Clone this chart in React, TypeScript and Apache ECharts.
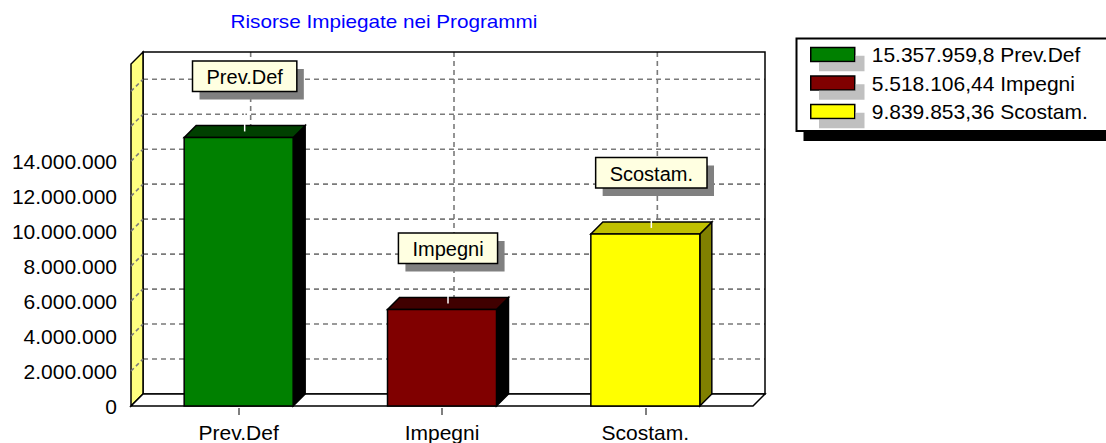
import React, { useEffect, useRef } from "react";
import * as echarts from "echarts";

// ---- data ----
const title = "Risorse Impiegate nei Programmi";
const categories = ["Prev.Def", "Impegni", "Scostam."];
const values = [15357959.8, 5518106.44, 9839853.36];
const colors = ["#008000", "#800000", "#ffff00"];
const topColors = ["#004000", "#400000", "#c0c000"];
const sideColors = ["#000000", "#000000", "#808000"];
const yGridValues = [2e6, 4e6, 6e6, 8e6, 10e6, 12e6, 14e6, 16e6, 18e6];
const yMaxLabel = 14e6;

// ---- layout constants ----
const FONT = '"Liberation Sans", Arial, Helvetica, sans-serif';
const DX = 12;
const DY = -12;
const YMAX = 19559000;
const XMIN = -0.5 - 6 / 203.33;
const XMAX = 2.5 + 6 / 203.33;
const BW = 0.536;
const GRID_DASH = [5, 4];
const GRID_COLOR = "#7a7a7a";

function fmtInt(n: number): string {
  return String(Math.trunc(n)).replace(/\B(?=(\d{3})+(?!\d))/g, ".");
}
function fmtVal(v: number): string {
  const s = String(v);
  const parts = s.split(".");
  return fmtInt(Number(parts[0])) + (parts[1] ? "," + parts[1] : "");
}

let measureCtx: CanvasRenderingContext2D | null = null;
function measure(text: string, font: string): number {
  if (!measureCtx) measureCtx = document.createElement("canvas").getContext("2d");
  if (!measureCtx) return text.length * 10;
  measureCtx.font = font;
  return measureCtx.measureText(text).width;
}

export default function App() {
  const ref = useRef<HTMLDivElement>(null);

  useEffect(() => {
    if (!ref.current) return;
    const chart = echarts.init(ref.current, undefined, { renderer: "svg" });

    const frameSeries: any = {
      type: "custom",
      name: "__frame",
      coordinateSystem: "cartesian2d",
      xAxisIndex: 0,
      yAxisIndex: 0,
      z: 1,
      silent: true,
      data: [[0, 0]],
      renderItem: (params: any, api: any) => {
        const fl = api.coord([XMIN, 0]);
        const fr = api.coord([XMAX, 0]);
        const tl = api.coord([XMIN, YMAX]);
        const children: any[] = [];
        const w = fr[0] - fl[0];
        const h = fl[1] - tl[1];
        children.push({
          type: "rect",
          shape: { x: fl[0] + DX, y: tl[1] + DY, width: w, height: h },
          style: { fill: "#ffffff" },
        });
        yGridValues.forEach((v) => {
          const p = api.coord([XMIN, v]);
          children.push({
            type: "line",
            shape: { x1: p[0] + DX, y1: p[1] + DY, x2: fr[0] + DX, y2: p[1] + DY },
            style: { stroke: GRID_COLOR, lineWidth: 1.6, lineDash: GRID_DASH },
          });
        });
        categories.forEach((_, i) => {
          const p = api.coord([i, 0]);
          children.push({
            type: "line",
            shape: { x1: p[0] + DX, y1: tl[1] + DY, x2: p[0] + DX, y2: fl[1] + DY },
            style: { stroke: GRID_COLOR, lineWidth: 1.6, lineDash: GRID_DASH },
          });
        });
        children.push({
          type: "rect",
          shape: { x: fl[0] + DX, y: tl[1] + DY, width: w, height: h },
          style: { fill: "none", stroke: "#000", lineWidth: 1.5 },
        });
        children.push({
          type: "polygon",
          shape: {
            points: [
              [fl[0], fl[1]],
              [tl[0], tl[1]],
              [tl[0] + DX, tl[1] + DY],
              [fl[0] + DX, fl[1] + DY],
            ],
          },
          style: { fill: "#ffff80", stroke: "#000", lineWidth: 1.5 },
        });
        yGridValues.forEach((v) => {
          const p = api.coord([XMIN, v]);
          children.push({
            type: "line",
            shape: { x1: p[0], y1: p[1], x2: p[0] + DX, y2: p[1] + DY },
            style: { stroke: GRID_COLOR, lineWidth: 1.6, lineDash: [4, 3] },
          });
        });
        children.push({
          type: "polygon",
          shape: {
            points: [
              [fl[0], fl[1]],
              [fr[0], fr[1]],
              [fr[0] + DX, fr[1] + DY],
              [fl[0] + DX, fl[1] + DY],
            ],
          },
          style: { fill: "#ffffff", stroke: "#000", lineWidth: 1.5 },
        });
        return { type: "group", children };
      },
    };

    const markFont = "20px " + FONT;
    const barSeries: any[] = categories.map((name, idx) => ({
      type: "custom",
      name,
      coordinateSystem: "cartesian2d",
      xAxisIndex: 0,
      yAxisIndex: 0,
      z: 2,
      silent: true,
      itemStyle: { color: colors[idx] },
      data: [[idx, values[idx]]],
      renderItem: (params: any, api: any) => {
        const x = api.value(0);
        const v = api.value(1);
        const a = api.coord([x - BW / 2, v]);
        const b = api.coord([x + BW / 2, 0]);
        const x1 = a[0], yT = a[1], x2 = b[0], yB = b[1];
        const stroke = { stroke: "#000", lineWidth: 1.5 };
        const cxm = (x1 + x2) / 2 + DX / 2;
        const topMid = yT + DY / 2;
        const tw = measure(name, markFont);
        const bw = tw + 28;
        const bh = 30.5;
        const boxBottom = topMid - 40;
        const boxTop = boxBottom - bh;
        const boxLeft = cxm - bw / 2;
        return {
          type: "group",
          children: [
            {
              type: "polygon",
              shape: { points: [[x2, yT], [x2 + DX, yT + DY], [x2 + DX, yB + DY], [x2, yB]] },
              style: { fill: sideColors[idx], ...stroke },
            },
            {
              type: "polygon",
              shape: { points: [[x1, yT], [x1 + DX, yT + DY], [x2 + DX, yT + DY], [x2, yT]] },
              style: { fill: topColors[idx], ...stroke },
            },
            {
              type: "rect",
              shape: { x: x1, y: yT, width: x2 - x1, height: yB - yT },
              style: { fill: colors[idx], ...stroke },
            },
            {
              type: "line",
              shape: { x1: cxm, y1: topMid, x2: cxm, y2: boxBottom },
              style: { stroke: "#ffffff", lineWidth: 1.5 },
            },
            {
              type: "rect",
              shape: { x: boxLeft + 7, y: boxTop + 8, width: bw, height: bh },
              style: { fill: "#808080" },
            },
            {
              type: "rect",
              shape: { x: boxLeft, y: boxTop, width: bw, height: bh },
              style: { fill: "#ffffe1", stroke: "#000", lineWidth: 1.5 },
            },
            {
              type: "text",
              x: cxm,
              y: boxTop + bh / 2 + 1,
              style: {
                text: name,
                font: markFont,
                fill: "#000",
                align: "center",
                verticalAlign: "middle",
              },
            },
          ],
        };
      },
    }));

    const option: any = {
      animation: false,
      grid: [
        { left: 131, width: 622, top: 64, height: 342 },
        { left: 137, width: 610, top: 64, height: 344 },
      ],
      xAxis: [
        { type: "value", gridIndex: 0, min: XMIN, max: XMAX, show: false },
        {
          type: "category",
          gridIndex: 1,
          data: categories,
          boundaryGap: true,
          axisLine: { show: false },
          axisTick: { show: true, alignWithLabel: true, length: 7, lineStyle: { color: "#555", width: 1.5 } },
          axisLabel: { color: "#000", fontSize: 21, fontFamily: FONT, margin: 14 },
          splitLine: { show: false },
        },
        {
          type: "value",
          gridIndex: 1,
          min: -0.5,
          max: 2.5,
          interval: 0.25,
          axisLine: { show: false },
          axisTick: { show: true, length: 4, lineStyle: { color: "#555", width: 1.5 } },
          axisLabel: { show: false },
          splitLine: { show: false },
        },
      ],
      yAxis: [
        {
          type: "value",
          gridIndex: 0,
          min: 0,
          max: YMAX,
          interval: 2e6,
          axisLine: { show: false },
          axisTick: { show: true, length: 9, lineStyle: { color: "#555", width: 1.5 } },
          minorTick: { show: true, splitNumber: 5, length: 5, lineStyle: { color: "#555", width: 1.5 } },
          splitLine: { show: false },
          axisLabel: {
            color: "#000",
            fontSize: 21,
            fontFamily: FONT,
            margin: 14,
            formatter: (v: number) => (v > yMaxLabel + 1 ? "" : fmtInt(v)),
          },
        },
        { type: "value", gridIndex: 1, show: false },
      ],
      legend: {
        orient: "vertical",
        left: 810,
        top: 44,
        padding: 0,
        itemWidth: 44,
        itemHeight: 14,
        itemGap: 7.5,
        icon: "rect",
        selectedMode: false,
        data: categories,
        z: 10,
        formatter: (name: string) => fmtVal(values[categories.indexOf(name)]) + " " + name,
        textStyle: { color: "#000", fontSize: 21, fontFamily: FONT, lineHeight: 21, padding: [0, 0, 0, 12] },
        itemStyle: {
          borderColor: "#000",
          borderWidth: 1.5,
          shadowColor: "#c0c0c0",
          shadowOffsetX: 9,
          shadowOffsetY: 9,
          shadowBlur: 0,
        },
      },
      graphic: [
        {
          type: "rect",
          z: 0,
          shape: { x: 803.5, y: 48.5, width: 340, height: 92.5 },
          style: { fill: "#000" },
        },
        {
          type: "rect",
          z: 1,
          shape: { x: 796.5, y: 38.5, width: 340, height: 92.5 },
          style: { fill: "#fff", stroke: "#000", lineWidth: 2 },
        },
        {
          type: "text",
          z: 10,
          x: 384,
          y: 22,
          scaleX: 1.15,
          style: {
            text: title,
            font: "18px " + FONT,
            fill: "#0000ff",
            align: "center",
            verticalAlign: "middle",
          },
        },
      ],
      series: [frameSeries, ...barSeries],
    };

    chart.setOption(option);
    return () => chart.dispose();
  }, []);

  return (
    <div
      ref={ref}
      style={{ position: "fixed", left: 0, top: 0, width: 1106, height: 443, background: "#fff" }}
    />
  );
}
